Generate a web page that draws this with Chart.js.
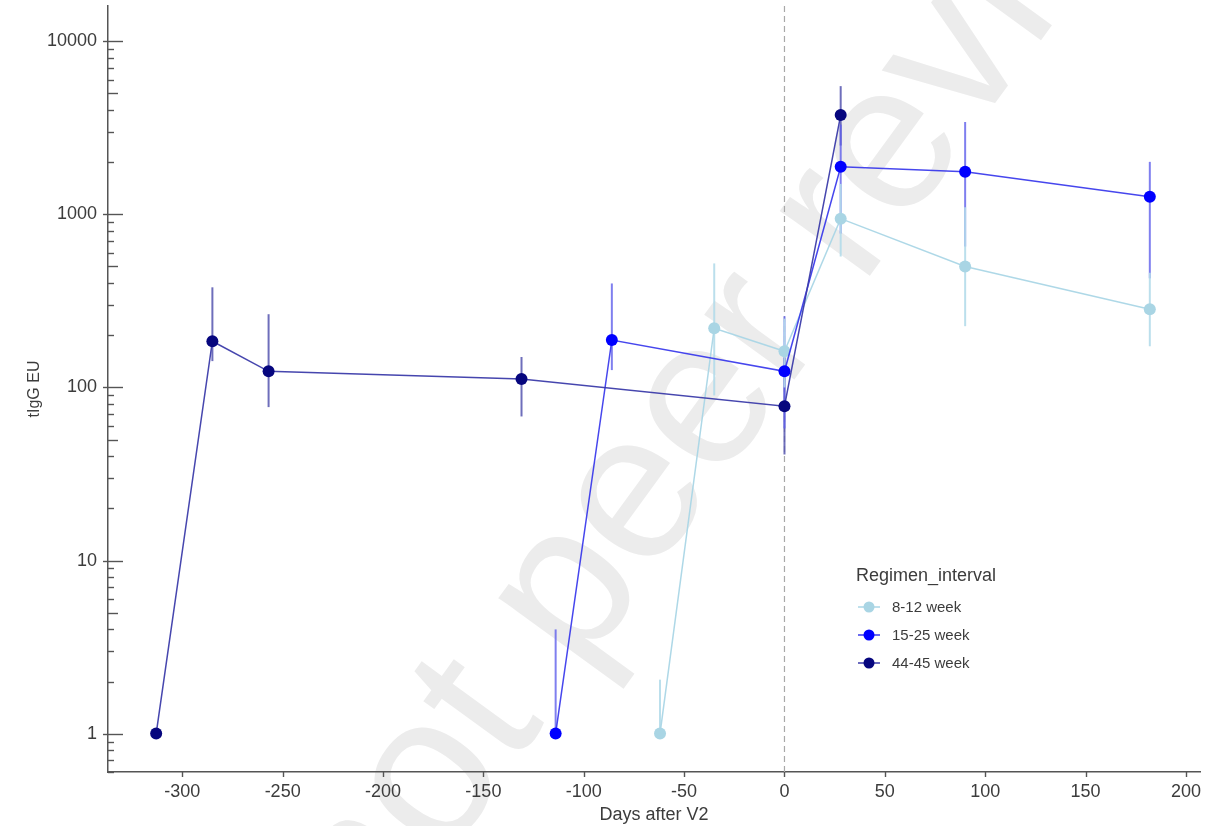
<!DOCTYPE html>
<html>
<head>
<meta charset="utf-8">
<title>tIgG EU by days after V2</title>
<script src="https://cdn.jsdelivr.net/npm/chart.js@4.4.1/dist/chart.umd.min.js"></script>
<style>
  html, body { margin: 0; padding: 0; background: #ffffff; }
  #wrap { width: 1222px; height: 826px; }
</style>
</head>
<body>
<div id="wrap"><canvas id="chart" width="1222" height="826"></canvas></div>
<script>
// Regimen interval groups
const groupLabels = ['8-12 week', '15-25 week', '44-45 week'];

// 8-12 week: days after V2, geometric mean and interval bounds
const days812  = [-62, -35, 0, 28, 90, 182];
const gmt812   = [1, 220, 162, 945, 500, 283];
const low812   = [1, 90, 100, 571, 226, 173];
const high812  = [2.05, 521, 250, 1500, 1100, 460];

// 15-25 week
const days1525 = [-114, -86, 0, 28, 90, 182];
const gmt1525  = [1, 188, 124, 1883, 1762, 1265];
const low1525  = [1, 126, 58, 775, 652, 427];
const high1525 = [4.0, 399, 258, 3300, 3420, 2012];

// 44-45 week
const days4445 = [-313, -285, -257, -131, 0, 28];
const gmt4445  = [1, 185, 124, 112, 78, 3750];
const low4445  = [1, 142, 77, 68, 41, 2500];
const high4445 = [1, 379, 265, 150, 148, 5510];

// Axis ticks
const xTickValues = [-300, -250, -200, -150, -100, -50, 0, 50, 100, 150, 200];
const yDecades = [0.1, 1, 10, 100, 1000];
const yLabelValues = [1, 10, 100, 1000, 10000];

const FONT = '"Liberation Sans", Arial, sans-serif';
const TEXT = '#3c3c3c';

function points(xs, ys) {
  return xs.map((d, i) => ({ x: d, y: ys[i] }));
}

// Minor tick values 2..9 per decade plus the labelled powers of ten
const yTickValues = [];
yDecades.forEach(d => { for (let m = 1; m <= 9; m++) yTickValues.push(+(d * m).toPrecision(6)); });
yTickValues.push(10000);

const series = [
  { label: groupLabels[0], days: days812,  gmt: gmt812,  low: low812,  high: high812,
    line: 'rgba(170,214,230,0.95)', point: '#a9d5e4', bar: 'rgba(180,220,234,0.9)', order: 3 },
  { label: groupLabels[1], days: days1525, gmt: gmt1525, low: low1525, high: high1525,
    line: 'rgba(50,50,235,0.9)', point: '#0000ff', bar: 'rgba(95,95,235,0.8)', order: 2 },
  { label: groupLabels[2], days: days4445, gmt: gmt4445, low: low4445, high: high4445,
    line: 'rgba(60,60,170,0.95)', point: '#06067e', bar: 'rgba(85,85,175,0.85)', order: 1 }
];

const datasets = series.map(s => ({
  label: s.label,
  data: points(s.days, s.gmt),
  low: s.low,
  high: s.high,
  barColor: s.bar,
  borderColor: s.line,
  borderWidth: 1.5,
  backgroundColor: s.point,
  pointBackgroundColor: s.point,
  pointBorderColor: s.point,
  pointBorderWidth: 0,
  pointRadius: 6,
  pointHoverRadius: 6,
  tension: 0,
  fill: false,
  order: s.order
}));

// Faint diagonal preprint watermark behind the plot
const watermark = {
  id: 'watermark',
  beforeDraw(chart) {
    const ctx = chart.ctx;
    ctx.save();
    ctx.translate(374, 958);
    ctx.rotate(-54 * Math.PI / 180);
    ctx.font = '210px ' + FONT;
    ctx.fillStyle = '#ececec';
    ctx.textBaseline = 'alphabetic';
    ctx.fillText('not peer reviewed', 0, 0);
    ctx.restore();
  }
};

// Dashed reference line at V2 and vertical interval bars
const intervals = {
  id: 'intervals',
  beforeDatasetsDraw(chart) {
    const { ctx, chartArea, scales: { x, y } } = chart;
    ctx.save();
    const x0 = x.getPixelForValue(0);
    ctx.strokeStyle = '#a8a8a8';
    ctx.lineWidth = 1.2;
    ctx.setLineDash([6, 4]);
    ctx.beginPath();
    ctx.moveTo(x0, chartArea.top);
    ctx.lineTo(x0, chartArea.bottom);
    ctx.stroke();
    ctx.setLineDash([]);
    for (let k = chart.data.datasets.length - 1; k >= 0; k--) {
      const ds = chart.data.datasets[k];
      ctx.strokeStyle = ds.barColor;
      ctx.lineWidth = 2;
      ds.data.forEach((p, i) => {
        if (ds.low[i] === ds.high[i]) return;
        const px = x.getPixelForValue(p.x);
        ctx.beginPath();
        ctx.moveTo(px, y.getPixelForValue(ds.low[i]));
        ctx.lineTo(px, y.getPixelForValue(ds.high[i]));
        ctx.stroke();
      });
    }
    ctx.restore();
  }
};

// Axis tick marks and the in-plot legend
const decor = {
  id: 'decor',
  afterDraw(chart) {
    const { ctx, chartArea, scales: { x, y } } = chart;
    ctx.save();
    ctx.strokeStyle = '#555555';
    ctx.lineWidth = 1.4;
    const ax = chartArea.left;
    y.ticks.forEach(t => {
      const v = t.value;
      const py = Math.round(y.getPixelForValue(v)) + 0.5;
      if (py < chartArea.top - 1 || py > chartArea.bottom + 1) return;
      const lg = Math.log10(v);
      const mant = Math.round(v / Math.pow(10, Math.floor(lg + 1e-9)));
      let a = ax, b = ax + 6;
      if (Math.abs(lg - Math.round(lg)) < 1e-9) { a = ax - 5; b = ax + 15; }
      else if (mant === 5) { b = ax + 10; }
      ctx.beginPath(); ctx.moveTo(a, py); ctx.lineTo(b, py); ctx.stroke();
    });
    x.ticks.forEach(t => {
      const px = Math.round(x.getPixelForValue(t.value)) + 0.5;
      ctx.beginPath(); ctx.moveTo(px, chartArea.bottom); ctx.lineTo(px, chartArea.bottom + 5); ctx.stroke();
    });

    // legend
    ctx.fillStyle = TEXT;
    ctx.textBaseline = 'middle';
    ctx.textAlign = 'left';
    ctx.font = '18px ' + FONT;
    ctx.fillText('Regimen_interval', 856, 576);
    const rows = [607, 635, 663];
    ctx.font = '15px ' + FONT;
    chart.data.datasets.forEach((ds, i) => {
      const cy = rows[i];
      ctx.strokeStyle = ds.borderColor;
      ctx.lineWidth = 1.6;
      ctx.beginPath(); ctx.moveTo(858, cy); ctx.lineTo(880, cy); ctx.stroke();
      ctx.fillStyle = ds.pointBackgroundColor;
      ctx.beginPath(); ctx.arc(869, cy, 5.5, 0, Math.PI * 2); ctx.fill();
      ctx.fillStyle = TEXT;
      ctx.fillText(ds.label, 892, cy + 1);
    });
    ctx.restore();
  }
};

new Chart(document.getElementById('chart'), {
  type: 'line',
  data: { datasets },
  plugins: [watermark, intervals, decor],
  options: {
    responsive: false,
    animation: false,
    layout: { padding: { left: 0, right: 22, top: 6, bottom: 0 } },
    plugins: { legend: { display: false }, tooltip: { enabled: false } },
    scales: {
      x: {
        type: 'linear',
        min: -337,
        max: 207,
        afterBuildTicks: s => { s.ticks = xTickValues.map(v => ({ value: v })); },
        afterFit: s => { s.height = 54; s.paddingLeft = 0; s.paddingRight = 0; },
        grid: { display: false, drawTicks: false },
        border: { display: true, color: '#555555', width: 1.5 },
        ticks: {
          autoSkip: false, maxRotation: 0, padding: 9,
          color: TEXT, font: { family: FONT, size: 18 },
          callback: v => String(v)
        },
        title: {
          display: true, text: 'Days after V2', color: TEXT,
          font: { family: FONT, size: 18 }, padding: { top: 0, bottom: 0 }
        }
      },
      y: {
        type: 'logarithmic',
        min: 0.63,
        max: 16000,
        afterBuildTicks: s => { s.ticks = yTickValues.map(v => ({ value: v })); },
        afterFit: s => { s.width = 108; s.paddingTop = 0; s.paddingBottom = 0; },
        grid: { display: false, drawTicks: false },
        border: { display: true, color: '#555555', width: 1.5 },
        ticks: {
          autoSkip: false, padding: 11,
          color: TEXT, font: { family: FONT, size: 18 },
          callback: v => (yLabelValues.includes(+(+v).toPrecision(6)) ? String(+(+v).toPrecision(6)) : '')
        },
        title: {
          display: true, text: 'tIgG EU', color: TEXT,
          font: { family: FONT, size: 16 }, padding: { top: 25, bottom: 0 }
        }
      }
    }
  }
});
</script>
</body>
</html>
